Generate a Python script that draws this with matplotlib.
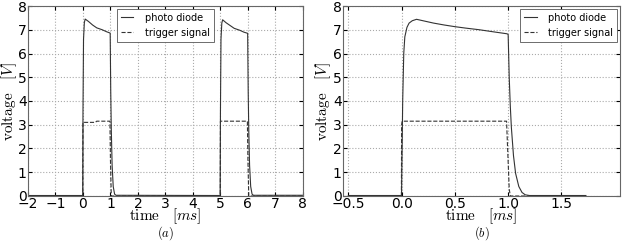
import numpy as np
import matplotlib
matplotlib.use('Agg')
from matplotlib import pyplot as plt

# panel (a): two pulses, time in ms
t_pd_a = [-2.0, -0.01, 0.0, 0.02, 0.05, 0.08, 0.2, 0.35, 0.5, 0.7, 0.85, 0.99, 1.0, 1.01, 1.03, 1.06, 1.1, 1.15, 1.2,
          4.99, 5.0, 5.02, 5.05, 5.08, 5.2, 5.35, 5.5, 5.7, 5.85, 5.99, 6.0, 6.01, 6.03, 6.06, 6.1, 6.15, 6.2, 8.0]
v_pd_a = [0.02, 0.02, 3.5, 6.6, 7.3, 7.45, 7.35, 7.2, 7.08, 7.0, 6.92, 6.86, 5.6, 4.4, 2.8, 1.3, 0.4, 0.08, 0.03,
          0.02, 3.5, 6.6, 7.28, 7.42, 7.3, 7.18, 7.06, 6.98, 6.9, 6.85, 5.6, 4.4, 2.8, 1.3, 0.4, 0.08, 0.03, 0.03]
t_tr_a = [-2.0, -0.005, 0.0, 0.45, 0.5, 0.98, 1.0, 1.03, 4.995, 5.0, 5.98, 6.0, 6.03, 8.0]
v_tr_a = [0.0, 0.0, 3.1, 3.1, 3.15, 3.15, 1.5, 0.0, 0.0, 3.15, 3.15, 1.5, 0.0, 0.0]

# panel (b): single pulse zoomed in
t_pd_b = [-0.5, -0.001, 0.0, 0.01, 0.02, 0.03, 0.05, 0.07, 0.1, 0.14, 0.2, 0.3, 0.4, 0.5, 0.6, 0.73, 0.85, 0.99,
          1.0, 1.005, 1.01, 1.02, 1.03, 1.05, 1.07, 1.1, 1.13, 1.16, 1.2, 1.4, 1.73]
v_pd_b = [0.02, 0.02, 0.3, 4.0, 6.0, 6.7, 7.1, 7.28, 7.38, 7.44, 7.38, 7.28, 7.2, 7.13, 7.07, 7.0, 6.92, 6.83,
          6.8, 5.9, 5.0, 3.8, 2.9, 1.7, 0.95, 0.4, 0.15, 0.05, 0.02, 0.02, 0.02]
t_tr_b = [-0.5, -0.002, 0.0, 0.005, 0.5, 0.985, 0.995, 1.01, 1.02, 1.73]
v_tr_b = [0.0, 0.0, 3.0, 3.15, 3.15, 3.15, 2.0, 0.3, 0.0, 0.0]

plt.rcParams['mathtext.fontset'] = 'cm'
plt.rcParams['font.size'] = 8

fig = plt.figure(figsize=(6.22, 2.47), dpi=100)
ax1 = fig.add_axes([0.045, 0.2065, 0.442, 0.7692])
ax2 = fig.add_axes([0.5515, 0.2065, 0.4453, 0.7692])

def style(ax, xticks, xlim, loc, ylab_x):
    ax.set_xlim(xlim)
    ax.set_ylim(0, 8)
    ax.set_xticks(xticks)
    ax.set_yticks(range(9))
    ax.grid(True, color='#aaaaaa', linestyle=':', linewidth=0.8)
    ax.tick_params(direction='in', top=True, right=True, length=3, labelsize=10, pad=1)
    for s in ax.spines.values():
        s.set_color('#666666')
        s.set_linewidth(0.8)
    xl = ax.set_xlabel(r'$\mathrm{time}\quad[ms]$', fontsize=11)
    ax.xaxis.set_label_coords(0.5, -0.105)
    xl.set_va('center')
    yl = ax.set_ylabel(r'$\mathrm{voltage}\quad[V]$', fontsize=11)
    ax.yaxis.set_label_coords(ylab_x, 0.5)
    yl.set_va('center')
    leg = ax.legend(loc=loc, fontsize=7, handlelength=1.3, handletextpad=1.2, borderaxespad=0.3,
                    fancybox=False, framealpha=1)
    leg.get_frame().set_edgecolor('#555555')
    leg.get_frame().set_linewidth(0.6)

ax1.plot(t_pd_a, v_pd_a, color='#333333', lw=0.8, label='photo diode')
ax1.plot(t_tr_a, v_tr_a, color='#333333', lw=0.8, ls='--', label='trigger signal')
style(ax1, range(-2, 9), (-2, 8), 'upper center', -0.069)

ax2.plot(t_pd_b, v_pd_b, color='#333333', lw=0.8, label='photo diode')
ax2.plot(t_tr_b, v_tr_b, color='#333333', lw=0.8, ls='--', label='trigger signal')
style(ax2, [-0.5, 0.0, 0.5, 1.0, 1.5], (-0.55, 2.05), 'upper right', -0.073)
ax2.set_xticklabels(['\u22120.5', '0.0', '0.5', '1.0', '1.5'])

fig.text(0.266, 0.055, r'$(a)$', ha='center', va='center', fontsize=9)
fig.text(0.774, 0.055, r'$(b)$', ha='center', va='center', fontsize=9)

fig.savefig('out.png', dpi=100)
